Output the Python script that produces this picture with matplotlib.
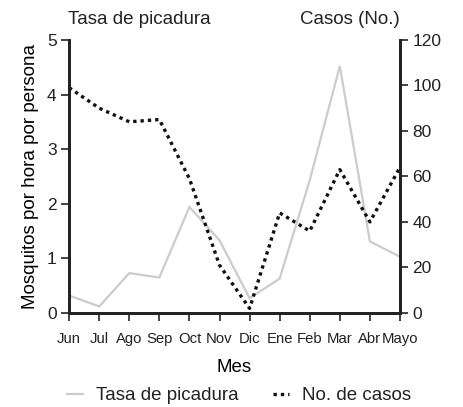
import matplotlib
matplotlib.use('Agg')
from matplotlib import pyplot as plt
from matplotlib.lines import Line2D

plt.rcParams['font.family'] = ['Liberation Sans', 'DejaVu Sans']
plt.rcParams['text.color'] = '#222222'

months = ['Jun', 'Jul', 'Ago', 'Sep', 'Oct', 'Nov', 'Dic',
          'Ene', 'Feb', 'Mar', 'Abr', 'Mayo']
bite_rate = [0.32, 0.12, 0.73, 0.65, 1.94, 1.33, 0.27,
             0.63, 2.43, 4.52, 1.31, 1.03]
cases = [99, 90, 84, 85, 59, 21, 2, 44, 36, 63, 40, 64]

fig = plt.figure(figsize=(4.64, 4.07), dpi=100)
ax = fig.add_axes([0.149, 0.231, 0.713, 0.671])
ax2 = ax.twinx()

x = list(range(len(months)))
ax.plot(x, bite_rate, color='#cccccc', lw=1.6, solid_joinstyle='miter')
ax2.plot(x, cases, color='#111111', lw=2.4, linestyle=(0, (1, 1.2)))

ax.set_xlim(0, len(months) - 1)
ax.set_ylim(0, 5)
ax2.set_ylim(0, 120)
ax.set_yticks(range(6))
ax2.set_yticks(range(0, 121, 20))
ax.set_xticks(x)
ax.set_xticklabels(months)

for a in (ax, ax2):
    a.spines['top'].set_visible(False)
    for s in ('left', 'right', 'bottom'):
        a.spines[s].set_linewidth(2)
        a.spines[s].set_color('#222222')
    a.tick_params(width=1.2, length=6, color='#222222', labelsize=12.5,
                  labelcolor='#222222', pad=3)
ax.tick_params(axis='x', labelsize=10.7, pad=8)

ax.set_ylabel('Mosquitos por hora por persona', fontsize=13.5, labelpad=6)
ax.set_xlabel('Mes', fontsize=13.5, labelpad=9)

fig.text(0.30, 0.942, 'Tasa de picadura', fontsize=13.5, ha='center')
fig.text(0.755, 0.942, 'Casos (No.)', fontsize=13.5, ha='center')

handles = [Line2D([], [], color='#cccccc', lw=1.6),
           Line2D([], [], color='#111111', lw=2.4, linestyle=(0, (1, 1.2)))]
fig.legend(handles, ['Tasa de picadura', 'No. de casos'], loc='lower center',
           bbox_to_anchor=(0.515, -0.035), ncol=2, frameon=False, fontsize=13.5,
           handlelength=0.85, columnspacing=1.8, handletextpad=0.7)

fig.savefig('out.png', dpi=100)
